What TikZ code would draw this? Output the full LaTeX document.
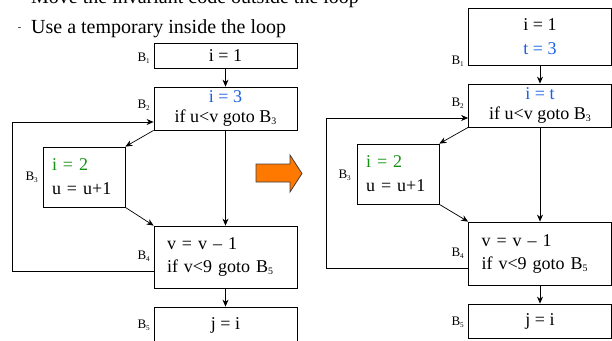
\documentclass[tikz,border=0pt]{standalone}
\usepackage{fontspec}
\setmainfont{Liberation Serif}
\usetikzlibrary{arrows.meta,positioning}
\definecolor{TmpBlue}{RGB}{25,95,230}
\definecolor{InvGreen}{RGB}{20,145,20}
\definecolor{GoOrange}{RGB}{255,120,0}
\newcommand{\blksub}[1]{\raisebox{-0.3ex}{\scalebox{0.55}{#1}}}

\begin{document}
\begin{tikzpicture}[x=1pt, y=-1pt,
	blk/.style={draw, line width=0.8pt, inner sep=0pt, minimum width=143pt,
		align=center, font=\fontsize{18}{20}\selectfont},
	lblk/.style={blk, align=left},
	lbl/.style={anchor=east, inner sep=0pt, font=\fontsize{13}{14}\selectfont},
	flow/.style={-{Stealth[length=7pt,width=6pt]}, line width=0.7pt}]
	\useasboundingbox (0,0) rectangle (612,340);

	% heading
	\node[anchor=base west, inner sep=0pt, font=\fontsize{20}{24}\selectfont] (hd1) at (31,4) {Move the invariant code outside the loop};
	\node[anchor=base west, inner sep=0pt, font=\fontsize{20}{24}\selectfont] (hd2) at (31,33) {Use a temporary inside the loop};
	\node[inner sep=0pt, font=\fontsize{10}{12}\selectfont] (dsh) at (19.5,29.5) {-};

	% before
	\node[blk, minimum height=25pt] (a1) at (225.5,55.5) {i = 1};
	\node[blk, minimum height=43pt] (a2) at (225.5,108.5) {{\color{TmpBlue}i = 3}\\if u<v goto B\blksub{3}};
	\node[lblk, minimum width=82pt, minimum height=60pt, inner xsep=9pt, text width=64pt] (a3) at (84,177) {{\color{InvGreen}i = 2}\\[4pt]u = u+1};
	\node[lblk, minimum height=62pt, inner xsep=13pt, text width=117pt] (a4) at (225.5,257) {v = v \textendash{} 1\\[3pt]if v<9 goto B\blksub{5}};
	\node[blk, minimum height=36pt] (a5) at (225.5,325) {j = i};
	\node[lbl] (la1) at (150,58) {B\blksub{1}};
	\node[lbl] (la2) at (150,105) {B\blksub{2}};
	\node[lbl] (la3) at (38,177) {B\blksub{3}};
	\node[lbl] (la4) at (150,256) {B\blksub{4}};
	\node[lbl] (la5) at (150,325) {B\blksub{5}};

	\draw[flow] (a1) -- (a2);
	\draw[flow] (a2.south west) -- (a3.north east);
	\draw[flow] (a3.south east) -- (a4.north west);
	\draw[flow] (a2) -- (a4);
	\draw[flow] (a4) -- (a5);
	\coordinate (lpa) at (12,271);
	\coordinate (lpb) at (12,122);
	\draw[flow] (a4.west|-lpa) -- (lpa) -- (lpb) -- (a2.west|-lpb);

	% arrow between
	\draw[fill=GoOrange, draw=black!75, line width=0.8pt, line join=miter]
		(256,164) -- (290,164) -- (290,155) -- (302,173.5) -- (290,192) -- (290,182) -- (256,182) -- cycle;

	% after
	\node[blk, minimum height=57pt] (b1) at (540,36.5) {i = 1\\[4pt]{\color{TmpBlue}t = 3}};
	\node[blk, minimum height=43pt] (b2) at (540,105.5) {{\color{TmpBlue}i = t}\\if u<v goto B\blksub{3}};
	\node[lblk, minimum width=82pt, minimum height=60pt, inner xsep=9pt, text width=64pt] (b3) at (398,174) {{\color{InvGreen}i = 2}\\[4pt]u = u+1};
	\node[lblk, minimum height=63pt, inner xsep=13pt, text width=117pt] (b4) at (540,253.5) {v = v \textendash{} 1\\[3pt]if v<9 goto B\blksub{5}};
	\node[blk, minimum height=34pt] (b5) at (540,321) {j = i};
	\node[lbl] (lb1) at (464,61) {B\blksub{1}};
	\node[lbl] (lb2) at (464,103) {B\blksub{2}};
	\node[lbl] (lb3) at (351,175) {B\blksub{3}};
	\node[lbl] (lb4) at (464,253) {B\blksub{4}};
	\node[lbl] (lb5) at (464,322) {B\blksub{5}};

	\draw[flow] (b1) -- (b2);
	\draw[flow] (b2.south west) -- (b3.north east);
	\draw[flow] (b3.south east) -- (b4.north west);
	\draw[flow] (b2) -- (b4);
	\draw[flow] (b4) -- (b5);
	\coordinate (lpc) at (326,268);
	\coordinate (lpd) at (326,118);
	\draw[flow] (b4.west|-lpc) -- (lpc) -- (lpd) -- (b2.west|-lpd);
\end{tikzpicture}
\end{document}
